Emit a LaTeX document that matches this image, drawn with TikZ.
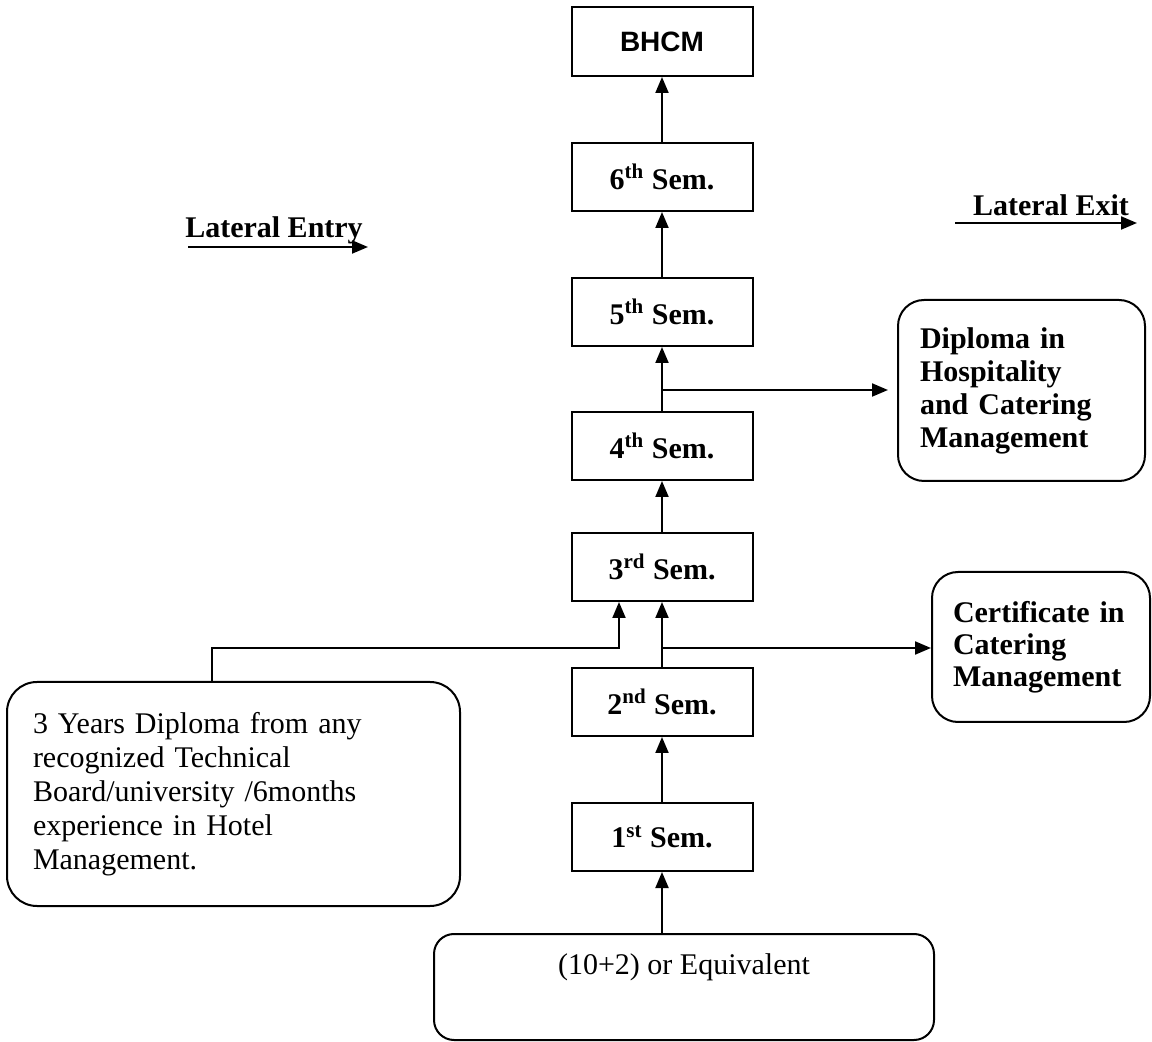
\documentclass[tikz,border=0pt]{standalone}
\usepackage{fontspec}
\setmainfont{Liberation Serif}
\setsansfont{Liberation Sans}
\usetikzlibrary{arrows.meta,calc}
\begin{document}
\begin{tikzpicture}[x=0.5pt,y=-0.5pt,
  semstyle/.style={draw,line width=1pt,minimum width=90.5pt,minimum height=34pt,inner sep=0pt,
    font=\fontsize{15}{17}\selectfont\bfseries},
  roundbox/.style={draw,line width=1pt,rounded corners=13pt,inner ysep=0pt},
  arr/.style={-{Triangle[length=8pt,width=6.5pt]},line width=1pt},
  plainline/.style={line width=1pt}]
\useasboundingbox (0,0) rectangle (1152,1042);

\node[semstyle,minimum height=34.5pt,font=\sffamily\bfseries\fontsize{14}{16}\selectfont] (bhcm) at (662,41.5) {BHCM};
\node[semstyle] (s6) at (662,177) {6\textsuperscript{th} Sem.};
\node[semstyle] (s5) at (662,312) {5\textsuperscript{th} Sem.};
\node[semstyle] (s4) at (662,446) {4\textsuperscript{th} Sem.};
\node[semstyle] (s3) at (662,567) {3\textsuperscript{rd} Sem.};
\node[semstyle] (s2) at (662,702) {2\textsuperscript{nd} Sem.};
\node[semstyle] (s1) at (662,837) {1\textsuperscript{st} Sem.};

\node[roundbox,minimum width=123.5pt,minimum height=90.5pt,inner xsep=11pt,text width=101.5pt,align=left,
  font=\fontsize{15}{16.5}\selectfont\bfseries] (dip) at (1021.5,390.5)
  {Diploma in\\Hospitality\\and Catering\\Management};
\node[roundbox,minimum width=109pt,minimum height=75pt,inner xsep=10.5pt,text width=88pt,align=left,
  font=\fontsize{15}{16}\selectfont\bfseries] (cert) at (1041,647)
  {Certificate in\\Catering\\Management};
\node[roundbox,rounded corners=15pt,minimum width=226.5pt,minimum height=112pt,inner xsep=13pt,text width=200.5pt,align=left,
  font=\fontsize{15}{17}\selectfont] (ly) at (233.5,794)
  {3 Years Diploma from any\\recognized Technical\\Board/university /6months\\experience in Hotel\\Management.};
\node[roundbox,rounded corners=10pt,minimum width=250pt,minimum height=53pt,text height=11pt,text depth=24pt,
  font=\fontsize{15}{17}\selectfont] (pre) at (684,987) {(10+2) or Equivalent};

\node[font=\fontsize{15}{17}\selectfont\bfseries] (lentry) at (274,230) {Lateral Entry};
\coordinate (lea) at (188,247);
\coordinate (leb) at (368,247);
\draw[arr] (lea) -- (leb);
\node[font=\fontsize{15}{17}\selectfont\bfseries] (lexit) at (1051,205) {Lateral Exit};
\coordinate (lxa) at (955,223);
\coordinate (lxb) at (1137,223);
\draw[arr] (lxa) -- (lxb);

\draw[arr] (s6.north) -- (bhcm.south);
\draw[arr] (s5.north) -- (s6.south);
\draw[arr] (s4.north) -- (s5.south);
\draw[arr] (s3.north) -- (s4.south);
\draw[arr] (s2.north) -- (s3.south);
\draw[arr] (s1.north) -- (s2.south);
\draw[arr] (pre.north -| s1) -- (s1.south);

\coordinate (db) at (662,390);
\draw[arr,shorten >=4.5pt] (db) -- (dip.west |- db);
\coordinate (cb) at (662,648);
\draw[arr] (cb) -- (cert.west |- cb);

\coordinate (lj) at (212,648);
\coordinate (lk) at (619,648);
\draw[arr] (ly.north -| lj) -- (lj) -- (lk) -- (s3.south -| lk);
\end{tikzpicture}
\end{document}
